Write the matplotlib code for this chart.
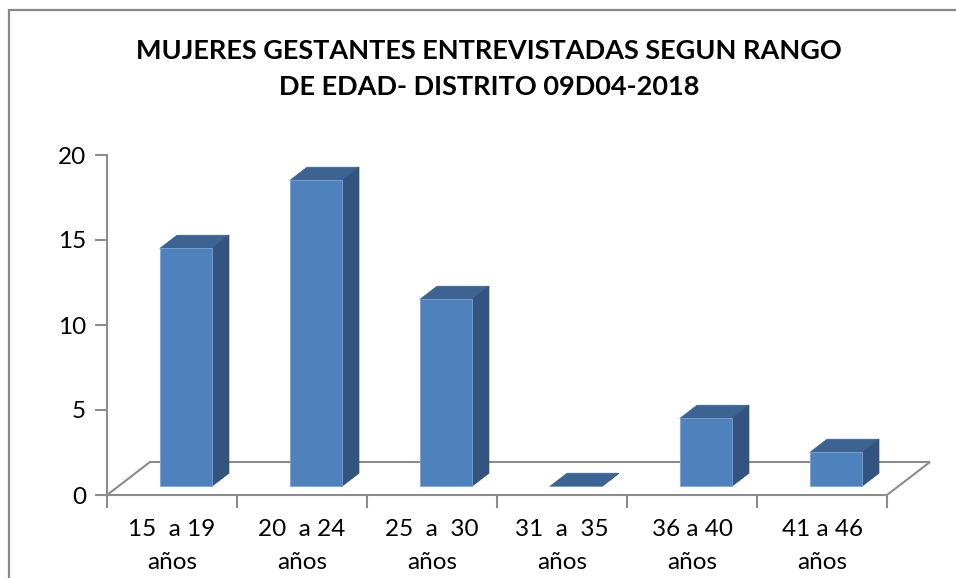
import matplotlib
matplotlib.use("Agg")
import matplotlib.pyplot as plt
from matplotlib.patches import Polygon, Rectangle

# data
categories = ["15  a 19\naños", "20  a 24\naños", "25  a  30\naños",
              "31  a  35\naños", "36 a 40\naños", "41 a 46\naños"]
values = [14, 18, 11, 0, 4, 2]
yticks = [0, 5, 10, 15, 20]
title = "MUJERES GESTANTES ENTREVISTADAS SEGUN RANGO\nDE EDAD- DISTRITO 09D04-2018"

front_col = "#4F81BD"
top_col = "#3C6392"
side_col = "#32547F"
grid_col = "#8C8C8C"

plt.rcParams['font.family'] = ['Lato', 'DejaVu Sans']

W, H = 956, 578
fig = plt.figure(figsize=(W / 100, H / 100), dpi=100)

# chart frame (cut off at right / bottom like the original)
fig.patches.append(Rectangle((8.5 / W, -0.05), 1.2, 1 - 10 / H + 0.05,
                             transform=fig.transFigure, fill=False,
                             edgecolor="#888888", lw=1.6))

ax = fig.add_axes([107 / W, (H - 495) / H, 780 / W, 340 / H])
ax.set_xlim(-0.5, 5.5)
ax.set_ylim(0, 20)

# 3d depth of the floor, in data units
DX, DY = 43 / 130, 33 / 17
f0, fd = 0.26, 0.40       # bar front position and bar depth (fraction of floor depth)
bw = 0.4

# floor
floor = [(-0.5, 0), (5.5, 0), (5.5 + DX, DY), (-0.5 + DX, DY)]
ax.add_patch(Polygon(floor, closed=True, fill=False, edgecolor=grid_col,
                     lw=1.5, clip_on=False, zorder=1))

# bars
xs = [i + f0 * DX + 0.02 for i in range(len(values))]
base = f0 * DY
ax.bar(xs, values, width=bw, bottom=base, color=front_col,
       edgecolor="#7FA3D3", lw=0.6, zorder=3, clip_on=False)
bdx, bdy = fd * DX, fd * DY
for x, v in zip(xs, values):
    xl, xr = x - bw / 2, x + bw / 2
    top = base + v
    ax.add_patch(Polygon([(xl, top), (xr, top), (xr + bdx, top + bdy), (xl + bdx, top + bdy)],
                         closed=True, facecolor=top_col, edgecolor=top_col, lw=0.5,
                         zorder=2.5, clip_on=False))
    ax.add_patch(Polygon([(xr, base), (xr + bdx, base + bdy), (xr + bdx, top + bdy), (xr, top)],
                         closed=True, facecolor=side_col, edgecolor=side_col, lw=0.5,
                         zorder=2.5, clip_on=False))

# axes styling
for s in ["top", "right", "bottom"]:
    ax.spines[s].set_visible(False)
ax.spines["left"].set_color(grid_col)
ax.spines["left"].set_linewidth(1.5)

ax.set_yticks(yticks)
ax.tick_params(axis="y", length=9, width=1.5, color=grid_col, labelsize=17.5, pad=6)

ax.set_xticks(range(len(categories)))
ax.set_xticklabels(categories, fontsize=17.5, linespacing=1.7)
ax.tick_params(axis="x", which="major", length=0, pad=17)
ax.set_xticks([i - 0.5 for i in range(len(categories) + 1)], minor=True)
ax.tick_params(axis="x", which="minor", length=9, width=1.5, color=grid_col)

fig.text(489 / W, 1 - 69 / H, title, ha="center", va="center", fontsize=19.5,
         fontweight="bold", linespacing=1.6)

fig.savefig("out.png", dpi=100)
